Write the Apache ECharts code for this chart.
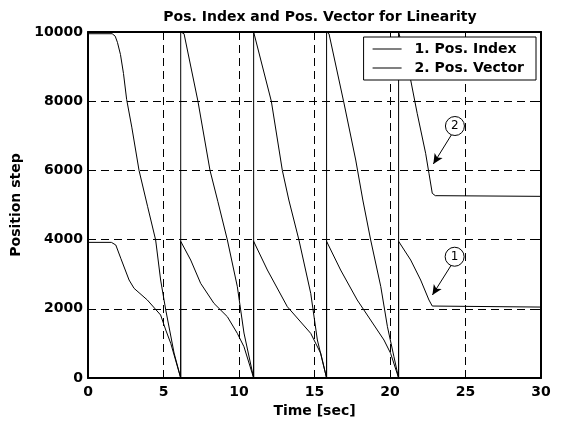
<!DOCTYPE html>
<html>
<head>
<meta charset="utf-8">
<script src="https://cdn.jsdelivr.net/npm/echarts@6/dist/echarts.min.js"></script>
<style>html,body{margin:0;padding:0;background:#fff}#c{width:562px;height:425px}</style>
</head>
<body>
<div id="c"></div>
<script>
var seriesNames = ['1. Pos. Index', '2. Pos. Vector'];
var indexTime = [0, 1.55, 1.84, 2.17, 2.72, 3.05, 3.93, 4.81, 5.15, 5.48, 6.14,
  6.14, 6.8, 7.46, 8.34, 9.23, 9.89, 10.33, 10.97,
  10.97, 11.88, 13.2, 14.75, 15.41, 15.8,
  15.8, 16.73, 17.83, 19.6, 20.04, 20.57,
  20.57, 21.37, 22.03, 22.58, 22.8, 30];
var indexVal = [3920, 3920, 3844, 3460, 2832, 2592, 2254, 1820, 1387, 1003, 0,
  3950, 3410, 2736, 2158, 1771, 1290, 904, 0,
  3950, 3121, 2061, 1290, 714, 0,
  3950, 3121, 2254, 1098, 714, 0,
  3950, 3410, 2832, 2254, 2080, 2050];
var vectorTime = [0, 1.6, 1.8, 1.95, 2.15, 2.35, 2.56, 2.9, 3.38, 3.95, 4.48, 4.81, 5.15, 5.7, 6.14,
  6.14, 6.36, 7.28, 8.08, 8.6, 9.23, 9.89, 10.33, 10.97,
  10.97, 11.1, 12.14, 12.87, 13.3, 13.97, 14.75, 15.19, 15.8,
  15.8, 15.96, 16.95, 17.73, 18.2, 18.72, 19.39, 19.83, 20.26, 20.57,
  20.57, 21.37, 21.8, 22.36, 22.58, 22.8, 23.0, 30];
var vectorVal = [9950, 9950, 9880, 9700, 9350, 8800, 8050, 7250, 6000, 4950, 3988, 2832, 1965, 722, 0,
  10000, 9950, 8000, 6000, 5100, 3988, 2640, 1300, 0,
  10000, 9950, 8000, 6000, 5144, 3988, 2448, 1098, 0,
  10000, 9950, 7948, 6300, 5144, 3988, 2640, 1483, 616, 0,
  10000, 8612, 7650, 6494, 5915, 5337, 5270, 5250];
var xTicks = [0, 5, 10, 15, 20, 25, 30];
var yTicks = [0, 2000, 4000, 6000, 8000, 10000];
// annotations: [label, circle centre, arrow start, arrow end] in data units
var annoLabels = ['1', '2'];
var annoCircle = [[24.28, 3505], [24.3, 7283]];
var annoFrom = [[24.09, 3286], [24.13, 7072]];
var annoTo = [[22.81, 2399], [22.87, 6185]];

function pairs(t, v) { return t.map(function (x, i) { return [x, v[i]]; }); }

var FONT = 'DejaVu Sans';
var FS = 14;
var chart = echarts.init(document.getElementById('c'), null, { renderer: 'canvas' });
var gridDash = { type: [8, 5], color: '#000', width: 1 };
var commonAxis = {
  axisLine: { show: true, onZero: false, lineStyle: { color: '#000', width: 2 } },
  axisTick: { show: true, inside: true, length: 4, lineStyle: { color: '#000', width: 1 } },
  splitLine: { show: false }
};
chart.setOption({
  animation: false,
  backgroundColor: '#fff',
  title: {
    text: 'Pos. Index and Pos. Vector for Linearity',
    left: 315, textAlign: 'center', top: 5,
    textStyle: { fontFamily: FONT, fontWeight: 'bold', fontSize: FS, color: '#000' }
  },
  grid: { left: 88, right: 21, top: 32, bottom: 47, containLabel: false },
  legend: {
    data: seriesNames,
    orient: 'vertical',
    right: 26, top: 37,
    padding: [5, 12, 5, 9],
    itemGap: 5,
    icon: 'rect',
    itemWidth: 29, itemHeight: 1,
    backgroundColor: '#fff',
    borderColor: '#000', borderWidth: 1,
    textStyle: { fontFamily: FONT, fontWeight: 'bold', fontSize: FS, lineHeight: 14, color: '#000', padding: [0, 0, 0, 8] }
  },
  xAxis: [
    Object.assign({}, commonAxis, {
      type: 'value', min: 0, max: 30, interval: 5, position: 'bottom',
      name: 'Time [sec]', nameLocation: 'middle', nameGap: 26,
      nameTextStyle: { fontFamily: FONT, fontWeight: 'bold', fontSize: FS, color: '#000' },
      axisLabel: { margin: 7, fontFamily: FONT, fontWeight: 'bold', fontSize: FS, color: '#000',
        formatter: function (v) { return xTicks.indexOf(v) >= 0 ? String(v) : ''; } },
      splitLine: { show: true, lineStyle: gridDash }
    }),
    Object.assign({}, commonAxis, {
      type: 'value', min: 0, max: 30, interval: 5, position: 'top',
      axisLabel: { show: false }
    })
  ],
  yAxis: [
    Object.assign({}, commonAxis, {
      type: 'value', min: 0, max: 10000, interval: 2000, position: 'left',
      name: 'Position step', nameLocation: 'middle', nameGap: 62,
      nameTextStyle: { fontFamily: FONT, fontWeight: 'bold', fontSize: FS, color: '#000' },
      axisLabel: { margin: 5, fontFamily: FONT, fontWeight: 'bold', fontSize: FS, color: '#000',
        formatter: function (v) { return yTicks.indexOf(v) >= 0 ? String(v) : ''; } },
      splitLine: { show: true, lineStyle: gridDash }
    }),
    Object.assign({}, commonAxis, {
      type: 'value', min: 0, max: 10000, interval: 2000, position: 'right',
      axisLabel: { show: false }
    })
  ],
  series: [
    {
      name: seriesNames[0], type: 'line', data: pairs(indexTime, indexVal),
      symbol: 'none', lineStyle: { color: '#000', width: 1 }, itemStyle: { color: '#000' },
      z: 3
    },
    {
      name: seriesNames[1], type: 'line', data: pairs(vectorTime, vectorVal),
      symbol: 'none', lineStyle: { color: '#000', width: 1 }, itemStyle: { color: '#000' },
      z: 3,
      markLine: {
        silent: true, animation: false,
        symbol: ['none', 'arrow'], symbolSize: [7, 10],
        lineStyle: { color: '#000', width: 1, type: 'solid' },
        label: { show: false },
        data: annoFrom.map(function (f, i) { return [{ coord: f }, { coord: annoTo[i] }]; })
      },
      markPoint: {
        silent: true, animation: false,
        symbol: 'circle', symbolSize: 19,
        itemStyle: { color: '#fff', borderColor: '#000', borderWidth: 1 },
        label: { show: true, position: 'inside', color: '#000', fontFamily: FONT, fontSize: 12 },
        data: annoCircle.map(function (c, i) { return { coord: c, value: annoLabels[i], label: { formatter: annoLabels[i] } }; })
      }
    }
  ]
});
</script>
</body>
</html>
